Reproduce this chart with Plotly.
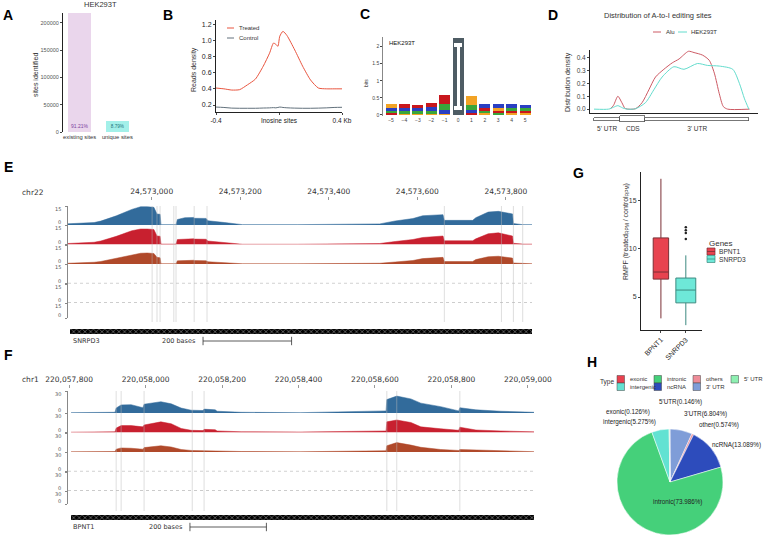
import plotly.graph_objects as go

W, H = 764, 536
SANS = "Liberation Sans, Arial, sans-serif"
IGV = "DejaVu Sans, Verdana, sans-serif"

# ---------------- data ----------------
# A: editing sites identified in HEK293T
a_cats = ["existing sites", "unique sites"]
a_sites = [218000, 21000]
a_pct = ["91.21%", "8.79%"]

# B: reads density around inosine sites (Kb)
b_x = [-0.4, -0.35, -0.3, -0.25, -0.2, -0.15, -0.1, -0.06, -0.035, -0.02, -0.007,
       0.005, 0.025, 0.05, 0.1, 0.15, 0.2, 0.25, 0.3, 0.35, 0.4]
b_treated = [0.41, 0.40, 0.385, 0.39, 0.45, 0.52, 0.68, 0.84, 0.965, 0.95, 0.925,
             1.05, 1.11, 1.06, 0.88, 0.68, 0.51, 0.41, 0.40, 0.40, 0.40]
b_control = [0.175, 0.17, 0.162, 0.16, 0.16, 0.16, 0.163, 0.165, 0.168, 0.165, 0.17,
             0.175, 0.17, 0.166, 0.162, 0.16, 0.16, 0.162, 0.165, 0.17, 0.172]

# C: sequence logo, bits per base at positions -5..5 (I = inosine)
c_pos = [-5, -4, -3, -2, -1, 0, 1, 2, 3, 4, 5]
c_A = [0.07, 0.08, 0.07, 0.08, 0.18, 0, 0.14, 0.07, 0.06, 0.08, 0.08]
c_C = [0.09, 0.09, 0.09, 0.10, 0.12, 0, 0.10, 0.10, 0.11, 0.10, 0.10]
c_G = [0.12, 0.04, 0.04, 0.04, 0.03, 0, 0.26, 0.06, 0.08, 0.06, 0.06]
c_U = [0.05, 0.12, 0.10, 0.13, 0.25, 0, 0.05, 0.08, 0.07, 0.07, 0.06]
c_I = [0, 0, 0, 0, 0, 2.25, 0, 0, 0, 0, 0]

# D: distribution along a normalised transcript
d_alu_x = [0.104, 0.126, 0.154, 0.180, 0.202, 0.267, 0.310, 0.354, 0.397, 0.451, 0.505,
           0.549, 0.610, 0.646, 0.701, 0.744, 0.777, 0.809, 0.835, 0.863, 1.004]
d_alu_y = [0, 0.03, 0.1, 0.05, 0.005, 0.003, 0.05, 0.15, 0.25, 0.31, 0.36,
           0.39, 0.45, 0.44, 0.42, 0.38, 0.28, 0.12, 0.02, 0, 0]
d_hek_x = [0, 0.093, 0.126, 0.154, 0.184, 0.213, 0.267, 0.332, 0.386, 0.440,
           0.516, 0.581, 0.668, 0.733, 0.809, 0.896, 0.939, 0.972, 1.0]
d_hek_y = [0, 0, 0.015, 0.027, 0.01, 0, 0.003, 0.05, 0.15, 0.25,
           0.33, 0.31, 0.355, 0.34, 0.335, 0.31, 0.2, 0.08, 0]
d_regions = ["5' UTR", "CDS", "3' UTR"]
d_reg_start = [0, 0.169, 0.332]
d_reg_end = [0.169, 0.332, 1.0]

# E: SNRPD3 coverage tracks (chr22)
e_chrom = "chr22"
e_range = [24572811, 24573859]
e_ticks = [24573000, 24573200, 24573400, 24573600, 24573800]
e_pos = [24572811, 24572840, 24572870, 24572885, 24572920, 24572955, 24572975, 24572990,
         24573005, 24573012, 24573019, 24573021, 24573050, 24573055, 24573058, 24573075,
         24573095, 24573097, 24573123, 24573127, 24573165, 24573205, 24573330, 24573470,
         24573515, 24573550, 24573590, 24573612, 24573658, 24573661, 24573725, 24573732,
         24573760, 24573783, 24573815, 24573817, 24573838, 24573859]
e_blue = [1.0, 1.2, 2.0, 3.2, 7.5, 12.8, 15, 15, 14.5, 9.0, 8.8, 0.3, 0.3, 0.3, 4.5, 6.0,
          6.2, 5.5, 5.4, 3.5, 2.0, 0.3, 0.3, 0.4, 0.9, 3.3, 5.3, 7.6, 8.5, 3.8, 3.8, 6.0,
          10.6, 11.2, 9.1, 1.2, 0.3, 0.3]
e_red = [0.8, 1.0, 1.8, 2.8, 6.5, 11.0, 12.4, 12.4, 12.0, 6.8, 6.6, 0.3, 0.3, 0.3, 4.0, 4.5,
         4.6, 4.3, 4.2, 2.8, 1.6, 0.2, 0.2, 0.3, 0.8, 2.4, 4.0, 5.6, 6.8, 3.0, 3.0, 4.5,
         8.6, 9.3, 6.8, 1.0, 0.3, 0.3]
e_brown = [0.6, 0.8, 1.4, 2.0, 4.5, 7.6, 8.6, 8.8, 8.4, 5.3, 5.0, 0.2, 0.2, 0.2, 2.5, 2.9,
           3.0, 2.7, 2.6, 1.8, 1.0, 0.2, 0.2, 0.2, 0.6, 1.6, 2.8, 4.3, 5.3, 2.0, 2.0, 3.5,
           5.8, 6.2, 4.7, 0.8, 0.2, 0.2]
e_ctrl_pos = [24572811, 24573300, 24573859]
e_ctrl = [0.1, 0.1, 0.1]
e_sites = [24573001, 24573012, 24573019, 24573050, 24573055, 24573096, 24573125,
           24573661, 24573790, 24573817, 24573838]
e_gene = "SNRPD3"
e_gene_span = [24572816, 24573858]
e_scale_start = 24573116
e_max = 15

# F: BPNT1 coverage tracks (chr1)
f_chrom = "chr1"
f_range = [220057797, 220059016]
f_ticks = [220057800, 220058000, 220058200, 220058400, 220058600, 220058800, 220059000]
f_pos = [220057805, 220057885, 220057920, 220057923, 220057936, 220057962, 220057993,
         220057996, 220058040, 220058067, 220058093, 220058119, 220058150, 220058153,
         220058182, 220058187, 220058250, 220058406, 220058563, 220058629, 220058631,
         220058657, 220058694, 220058720, 220058772, 220058819, 220058822, 220058864,
         220058929, 220059016]
f_blue = [0.5, 0.8, 1.0, 7, 11.5, 11.8, 7.5, 12.5, 16, 13, 7, 4, 3.5, 5.5, 4.5, 2.5,
          1.0, 0.5, 2.0, 3.0, 19, 24, 20, 14, 9, 3, 7.5, 4.5, 2.5, 1.0]
f_red = [0.5, 0.8, 1.2, 7, 11, 11, 9, 12, 17, 14, 6.5, 3.5, 3, 5, 4.5, 2.5,
         1.2, 0.8, 1.8, 2.5, 17, 20, 16, 9, 6, 3.5, 8.5, 4, 2.5, 1.0]
f_brown = [0.3, 0.5, 0.8, 4.5, 6.5, 6.0, 4.5, 7, 10, 8, 4, 2.5, 2, 3, 2.5, 1.5,
           0.8, 0.4, 1.2, 2, 10, 15, 11, 7.5, 4, 2.5, 4, 3, 2, 0.5]
f_ctrl_pos = [220057797, 220058400, 220059016]
f_ctrl = [0.2, 0.2, 0.2]
f_sites = [220057923, 220057936, 220057996, 220058122, 220058153, 220058631,
           220058657, 220058822]
f_gene = "BPNT1"
f_gene_span = [220057805, 220059016]
f_scale_start = 220058116
f_max = 30

# G: RMPF box statistics
g_genes = ["BPNT1", "SNRPD3"]
g_q1 = [6.85, 4.4]
g_med = [7.58, 5.72]
g_q3 = [11.1, 6.96]
g_low = [2.8, 2.1]
g_high = [17.2, 9.3]
g_out_gene = ["SNRPD3", "SNRPD3", "SNRPD3", "SNRPD3"]
g_out_val = [12.2, 11.9, 11.6, 11.0]

# H: genomic distribution of sites
h_types = ["3'UTR", "other", "ncRNA", "intronic", "intergenic", "exonic", "5'UTR"]
h_pct = [6.804, 0.574, 13.089, 73.986, 5.275, 0.126, 0.146]
h_leg_names = ["exonic", "intergenic", "intronic", "ncRNA", "others", "3' UTR", "5' UTR"]

# ---------------- styles / helpers ----------------
h_colors = {"exonic": "#e8414f", "intergenic": "#62e2d2", "intronic": "#45d07a",
            "ncRNA": "#2d4cbc", "others": "#ee8c98", "other": "#ee8c98",
            "3' UTR": "#7f9dd8", "3'UTR": "#7f9dd8", "5' UTR": "#8ef0b2", "5'UTR": "#8ef0b2"}
h_label_xy = [(705, 414), (719, 425), (736, 445), (677, 502), (629, 422), (628, 412), (680, 402)]
track_cols = ["#326b9b", "#c8202f", "#b0492a"]


def xd(left, right):
    return [left / W, right / W]


def yd(top, bottom):
    return [1 - bottom / H, 1 - top / H]


def note(text, x, y, size=7, color="#333", xanchor="center", yanchor="middle",
         angle=0, family=SANS):
    return dict(text=text, x=x / W, y=1 - y / H, xref="paper", yref="paper",
                showarrow=False, font=dict(size=size, color=color, family=family),
                xanchor=xanchor, yanchor=yanchor, textangle=angle)


def pline(x0, y0, x1, y1, color, width=1):
    return dict(type="line", xref="paper", yref="paper", x0=x0 / W, x1=x1 / W,
                y0=1 - y0 / H, y1=1 - y1 / H, line=dict(color=color, width=width))


def prect(x0, y0, x1, y1, fill, line="#444", width=0.6):
    return dict(type="rect", xref="paper", yref="paper", x0=x0 / W, x1=x1 / W,
                y0=1 - y1 / H, y1=1 - y0 / H, fillcolor=fill, line=dict(color=line, width=width))


fig = go.Figure()
annotations = []
shapes = []
layout = {}

# ---------------- A ----------------
fig.add_trace(go.Bar(x=a_cats, y=a_sites, width=0.62,
                     marker=dict(color=["#ead6ec", "#a3f0e9"], line_width=0),
                     text=a_pct, textposition="inside", insidetextanchor="start", textangle=0,
                     textfont=dict(family=SANS, size=6.5, color=["#7c3f9f", "#22727a"]),
                     xaxis="x", yaxis="y", showlegend=False))
layout["xaxis"] = dict(domain=xd(63, 140), range=[-0.44, 1.6], anchor="y", ticks="",
                       tickangle=0, tickfont=dict(size=5.8, color="#333"), showline=False)
layout["yaxis"] = dict(domain=yd(13, 132), range=[0, 218000], anchor="x", showline=True,
                       linecolor="#222", linewidth=1, ticks="outside", ticklen=2,
                       tickvals=[0, 50000, 100000, 150000, 200000], tickformat="d",
                       tickfont=dict(size=5.5, color="#555"))
annotations += [note("HEK293T", 101, 4, size=7.5),
                note("sites identified", 35, 75, size=7, angle=-90)]

# ---------------- B ----------------
fig.add_trace(go.Scatter(x=b_x, y=b_treated, mode="lines", line=dict(color="#e9553f", width=1, shape="spline", smoothing=0.6),
                         xaxis="x2", yaxis="y2", showlegend=False, name="Treated"))
fig.add_trace(go.Scatter(x=b_x, y=b_control, mode="lines", line=dict(color="#62717c", width=1, shape="spline"),
                         xaxis="x2", yaxis="y2", showlegend=False, name="Control"))
layout["xaxis2"] = dict(domain=xd(216, 342), range=[-0.4, 0.4], anchor="y2", showline=True,
                        linecolor="#222", linewidth=1, ticks="outside", ticklen=2,
                        tickvals=[-0.4, 0, 0.4], ticktext=["-0.4", "Inosine sites", "0.4 Kb"],
                        tickfont=dict(size=6.5, color="#222"))
layout["yaxis2"] = dict(domain=yd(20, 112), range=[0.114, 1.25], anchor="x2", showline=True,
                        linecolor="#222", linewidth=1, ticks="outside", ticklen=2,
                        tickvals=[0.2, 0.4, 0.6, 0.8, 1.0, 1.2], tickformat=".1f",
                        tickfont=dict(size=7, color="#222"))
annotations += [note("Reads density", 194, 70, size=7, angle=-90),
                note("Treated", 237, 28, size=6, xanchor="left"),
                note("Control", 237, 38, size=6, xanchor="left")]
shapes += [pline(227, 28, 234, 28, "#e9553f"), pline(227, 38, 234, 38, "#62717c")]

# ---------------- C ----------------
letters = {"A": (c_A, "#3aa63a"), "C": (c_C, "#2a3fc2"), "G": (c_G, "#f2a325"),
           "U": (c_U, "#c8171d"), "I": (c_I, "#4e5c64")}
for r in range(len(letters)):
    ys, cols, names = [], [], []
    for j in range(len(c_pos)):
        order = sorted(letters, key=lambda L: letters[L][0][j])
        L = order[r]
        ys.append(letters[L][0][j])
        cols.append(letters[L][1])
        names.append(L)
    fig.add_trace(go.Bar(x=c_pos, y=ys, width=0.82, marker=dict(color=cols, line_width=0),
                         hovertext=names, xaxis="x3", yaxis="y3", showlegend=False))
i_top = max(c_I)
i_x = c_pos[c_I.index(i_top)]
# white inner "I" glyph
fig.add_trace(go.Bar(x=[i_x, i_x, i_x], y=[i_top * 0.86, i_top * 0.045, i_top * 0.045],
                     base=[i_top * 0.07, i_top * 0.07, i_top * 0.885],
                     width=[0.22, 0.56, 0.56], marker=dict(color="white", line_width=0),
                     xaxis="x3", yaxis="y3", showlegend=False, hoverinfo="skip"))
layout["xaxis3"] = dict(domain=xd(383, 532), range=[-5.6, 5.52], anchor="y3", showline=False,
                        ticks="", tickvals=c_pos, tickfont=dict(size=5, color="#444"))
layout["yaxis3"] = dict(domain=yd(37, 116), range=[-0.03, 2.28], anchor="x3", showline=True,
                        linecolor="#888", linewidth=0.6, ticks="outside", ticklen=2,
                        tickvals=[0, 0.5, 1, 1.5, 2], ticktext=["0", "0.5", "1", "1.5", "2"],
                        tickfont=dict(size=5, color="#444"))
annotations += [note("HEK293T", 387, 43, size=6, xanchor="left", color="#111"),
                note("bits", 366, 83, size=5, angle=-90)]

# ---------------- D ----------------
fig.add_trace(go.Scatter(x=d_alu_x, y=d_alu_y, mode="lines", line=dict(color="#cd5a64", width=1, shape="spline", smoothing=0.7),
                         xaxis="x4", yaxis="y4", showlegend=False, name="Alu"))
fig.add_trace(go.Scatter(x=d_hek_x, y=d_hek_y, mode="lines", line=dict(color="#63dccd", width=1, shape="spline", smoothing=0.7),
                         xaxis="x4", yaxis="y4", showlegend=False, name="HEK293T"))
d_len = [e - s for s, e in zip(d_reg_start, d_reg_end)]
fig.add_trace(go.Bar(y=[0, 0, 0], x=d_len, base=d_reg_start, orientation="h",
                     width=[0.75, 1.5, 0.75],
                     marker=dict(color="white", line=dict(color="#555", width=0.8)),
                     xaxis="x5", yaxis="y5", showlegend=False, hovertext=d_regions))
layout["xaxis4"] = dict(domain=xd(590, 758), range=[-0.026, 1.059], anchor="y4", showline=True,
                        linecolor="#222", linewidth=1, showticklabels=False, ticks="")
layout["yaxis4"] = dict(domain=yd(50, 113), range=[-0.03, 0.46], anchor="x4", showline=True,
                        linecolor="#222", linewidth=1, ticks="outside", ticklen=2,
                        tickvals=[0, 0.1, 0.2, 0.3, 0.4], tickformat=".1f",
                        tickfont=dict(size=6.5, color="#444"))
layout["xaxis5"] = dict(domain=xd(590, 758), range=[-0.026, 1.059], anchor="y5", showline=False,
                        ticks="", tickvals=[(s + e) / 2 for s, e in zip(d_reg_start, d_reg_end)],
                        ticktext=d_regions, tickfont=dict(size=6.5, color="#333"))
layout["yaxis5"] = dict(domain=yd(115, 123), range=[-1, 1], anchor="x5", visible=False)
annotations += [note("Distribution of A-to-I editing sites", 658, 15, size=7.5),
                note("Distribution density", 568, 82, size=7, angle=-90),
                note("Alu", 664, 32, size=6, xanchor="left"),
                note("HEK293T", 689, 32, size=6, xanchor="left")]
shapes += [pline(653, 32, 661, 32, "#cd5a64"), pline(678, 32, 687, 32, "#63dccd")]


# ---------------- E / F tracks ----------------
def genome_panel(xa, y0, rng, ticks, pos, covs, ctrl_pos, ctrl, ymax, bases, tops,
                 tick_y, sites, site_top, site_bot, gene, gene_span, scale_start,
                 gene_dom, chrom, chrom_y):
    xid = "x" + str(xa)
    layout["xaxis" + str(xa)] = dict(domain=xd(68, rng[2]), range=rng[:2], anchor="free",
                                     position=1 - tick_y / H, side="top", showline=False,
                                     ticks="outside", ticklen=3, tickcolor="#999",
                                     tickvals=ticks, tickformat=",d",
                                     tickfont=dict(family=IGV, size=7.5, color="#333"))
    for i in range(6):
        yn = y0 + i
        layout["yaxis" + str(yn)] = dict(domain=yd(tops[i], bases[i]), range=[0, ymax * 1.04],
                                         anchor=xid, showline=True, linecolor="#888",
                                         linewidth=0.7, ticks="outside", ticklen=2,
                                         tickcolor="#888", tickvals=[0, ymax],
                                         showticklabels=False)
        annotations.append(dict(text="0", x=63 / W, xref="paper", y=0, yref="y" + str(yn),
                                xanchor="right", yanchor="middle", yshift=3, showarrow=False,
                                font=dict(family=IGV, size=5, color="#555")))
        annotations.append(dict(text=str(ymax), x=63 / W, xref="paper", y=ymax,
                                yref="y" + str(yn), xanchor="right", yanchor="middle",
                                yshift=-2.5, showarrow=False,
                                font=dict(family=IGV, size=5, color="#555")))
        if i < 3:
            fig.add_trace(go.Scatter(x=pos, y=covs[i], mode="lines", fill="tozeroy",
                                     line=dict(color=track_cols[i], width=0.5),
                                     fillcolor=track_cols[i], xaxis=xid, yaxis="y" + str(yn),
                                     showlegend=False))
        elif i < 5:
            fig.add_trace(go.Scatter(x=ctrl_pos, y=ctrl, mode="lines",
                                     line=dict(color="#9a9a9a", width=0.8, dash="dot"),
                                     xaxis=xid, yaxis="y" + str(yn), showlegend=False))
    gy = y0 + 6
    layout["yaxis" + str(gy)] = dict(domain=yd(*gene_dom), range=[-3, 1], anchor=xid,
                                     visible=False)
    fig.add_trace(go.Bar(y=[0], x=[gene_span[1] - gene_span[0]], base=[gene_span[0]],
                         orientation="h", width=1,
                         marker=dict(color="black", line_width=0,
                                     pattern=dict(shape="x", fgcolor="white", bgcolor="black",
                                                  size=4, solidity=0.3)),
                         xaxis=xid, yaxis="y" + str(gy), showlegend=False, hovertext=[gene]))
    fig.add_trace(go.Scatter(x=[scale_start, scale_start + 200], y=[-2, -2], mode="lines+markers",
                             line=dict(color="#333", width=0.8),
                             marker=dict(symbol="line-ns", size=6, line=dict(color="#333", width=0.8)),
                             xaxis=xid, yaxis="y" + str(gy), showlegend=False))
    annotations.append(dict(text="200 bases", x=scale_start, xref=xid, y=-2, yref="y" + str(gy),
                            xanchor="right", xshift=-5, showarrow=False,
                            font=dict(family=IGV, size=6.5, color="#333")))
    annotations.append(dict(text=gene, x=rng[0], xref=xid, y=-2, yref="y" + str(gy),
                            xanchor="left", xshift=3, showarrow=False,
                            font=dict(family=IGV, size=6.5, color="#333")))
    annotations.append(note(chrom, 20, chrom_y, size=7.5, xanchor="left", family=IGV))
    for s in sites:
        shapes.append(dict(type="line", xref=xid, yref="paper", x0=s, x1=s,
                           y0=1 - site_bot / H, y1=1 - site_top / H, layer="above",
                           line=dict(color="rgba(185,185,185,0.8)", width=0.6)))


e_bases = [225, 244.5, 264, 283.5, 303, 318]
e_tops = [206] + e_bases[:-1]
genome_panel(6, 6, e_range + [532], e_ticks, e_pos, [e_blue, e_red, e_brown],
             e_ctrl_pos, e_ctrl, e_max, e_bases, e_tops, 200, e_sites, 206, 322,
             e_gene, e_gene_span, e_scale_start, (326, 346), e_chrom, 193)

f_bases = [413, 432.5, 452, 471.5, 491, 504]
f_tops = [391] + f_bases[:-1]
genome_panel(7, 13, f_range + [534], f_ticks, f_pos, [f_blue, f_red, f_brown],
             f_ctrl_pos, f_ctrl, f_max, f_bases, f_tops, 388, f_sites, 391, 511,
             f_gene, f_gene_span, f_scale_start, (512, 532), f_chrom, 379)

# ---------------- G ----------------
g_fill = ["#e8434f", "#6ee8d8"]
g_line = ["#7a2f35", "#3d8a80"]
g_width = [0.62, 0.8]
for k, gene in enumerate(g_genes):
    fig.add_trace(go.Box(x=[gene], q1=[g_q1[k]], median=[g_med[k]], q3=[g_q3[k]],
                         lowerfence=[g_low[k]], upperfence=[g_high[k]], width=g_width[k],
                         whiskerwidth=0, fillcolor=g_fill[k], line=dict(color=g_line[k], width=1),
                         boxpoints=False, xaxis="x8", yaxis="y20", showlegend=False, name=gene))
fig.add_trace(go.Scatter(x=g_out_gene, y=g_out_val, mode="markers",
                         marker=dict(color="#222", size=2.5), xaxis="x8", yaxis="y20",
                         showlegend=False))
layout["xaxis8"] = dict(domain=xd(641, 702), range=[-0.8, 1.65], anchor="y20", showline=True,
                        linecolor="#222", linewidth=1, ticks="outside", ticklen=2,
                        tickangle=-45, tickfont=dict(size=7, color="#222"),
                        categoryorder="array", categoryarray=g_genes)
layout["yaxis20"] = dict(domain=yd(172, 330), range=[1.6, 17.9], anchor="x8", showline=True,
                         linecolor="#222", linewidth=1, ticks="outside", ticklen=2,
                         tickvals=[5, 10, 15], tickfont=dict(size=7, color="#333"))
annotations += [note("RMPF (treated<sub>RPM</sub> / control<sub>RPM</sub>)", 626, 232, size=7, angle=-90),
                note("Genes", 707, 243, size=8, xanchor="left")]
for k, gene in enumerate(g_genes):
    top = 248 + k * 7.5
    shapes.append(prect(707, top, 715, top + 7, g_fill[k], line=g_line[k], width=0.7))
    shapes.append(pline(707, top + 3.5, 715, top + 3.5, g_line[k], 0.8))
    annotations.append(note(gene, 717, top + 3.6, size=6.6, xanchor="left"))

# ---------------- H ----------------
fig.add_trace(go.Pie(labels=h_types, values=h_pct, sort=False, direction="clockwise", rotation=0,
                     marker=dict(colors=[h_colors[t] for t in h_types], line=dict(color="white", width=0.5)),
                     textinfo="none", showlegend=False,
                     domain=dict(x=xd(617, 723), y=yd(429, 535))))
for t, v, (lx, ly) in zip(h_types, h_pct, h_label_xy):
    annotations.append(note(f"{t}({v:.3f}%)", lx, ly, size=6.3, color="#222"))
annotations.append(note("Type", 607, 382, size=6.5))
col_x = [617, 654, 693, 731]
row_y = [375.5, 383]
for i, name in enumerate(h_leg_names):
    kx, ky = col_x[i // 2], row_y[i % 2]
    shapes.append(prect(kx, ky, kx + 7.5, ky + 7.5, h_colors[name], line="#444", width=0.5))
    annotations.append(note(name, kx + 10.5, ky + 3.8, size=6, xanchor="left"))

# ---------------- panel letters ----------------
for lab, lx, ly in [("A", 8, 15), ("B", 168, 15), ("C", 365, 14), ("D", 553, 15),
                    ("E", 8, 167), ("F", 8, 355), ("G", 578, 173), ("H", 592, 362)]:
    annotations.append(note("<b>" + lab + "</b>", lx, ly, size=14, color="#000",
                            family="Liberation Sans, Arial, sans-serif"))

for k in list(layout):
    layout[k].setdefault("showgrid", False)
    layout[k].setdefault("zeroline", False)

fig.update_layout(width=W, height=H, margin=dict(l=0, r=0, t=0, b=0, autoexpand=False),
                  paper_bgcolor="white", plot_bgcolor="white", barmode="stack",
                  bargap=0, showlegend=False, font=dict(family=SANS, size=7, color="#333"),
                  annotations=annotations, shapes=shapes, **layout)
# the page body has a default 8px margin; drop it so the figure sits at the window origin
fig.write_html("out.html", config={"displayModeBar": False},
               post_script="document.body.style.margin='0';")
